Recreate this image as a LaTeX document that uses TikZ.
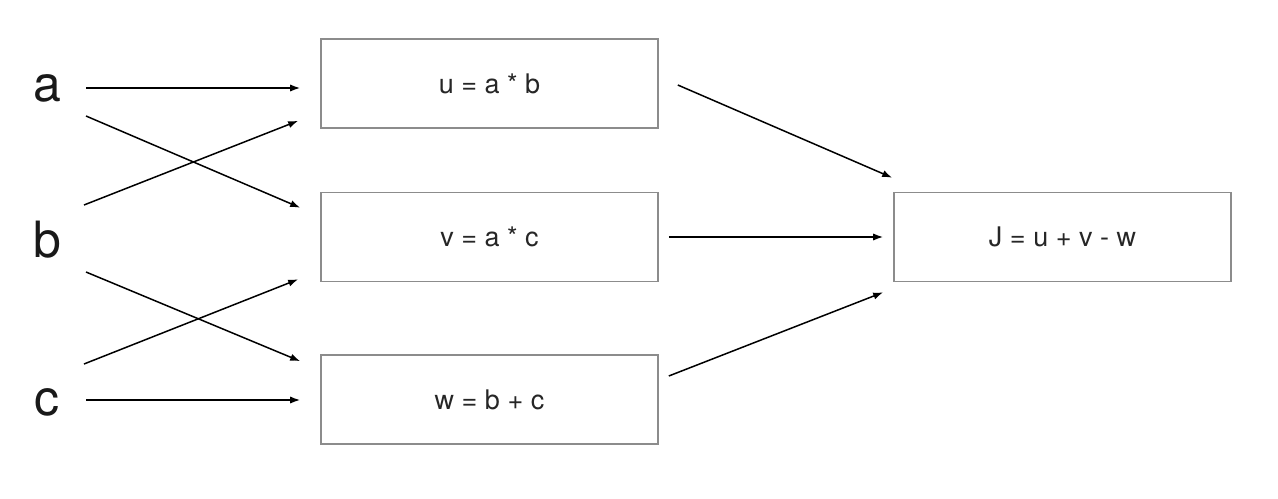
\documentclass[tikz,border=0pt]{standalone}
\usepackage{fontspec}
\setmainfont{TeX Gyre Heros}
\usetikzlibrary{arrows.meta}

\begin{document}
\begin{tikzpicture}[x=0.5pt,y=-0.5pt,>={Latex[length=5pt,width=3.6pt]}]
\tikzset{
  opbox/.style={draw=black!45,line width=0.8pt,minimum width=168.5pt,minimum height=44.5pt,
    inner sep=0pt,font=\fontsize{13.5}{16}\selectfont,text=black!85},
  invar/.style={inner sep=0pt,font=\fontsize{25}{30}\selectfont,text=black!90},
  arr/.style={->,line width=0.75pt}
}
\useasboundingbox (0,0) rectangle (1278,498);
% inputs
\node[invar] (a) at (47,88) {a};
\node[invar] (b) at (47,240) {b};
\node[invar] (c) at (47,402) {c};
% operations
\node[opbox] (u) at (489.5,83.5) {u = a * b};
\node[opbox] (v) at (489.5,237) {v = a * c};
\node[opbox] (w) at (489.5,399.5) {w = b + c};
\node[opbox] (J) at (1062.5,237) {J = u + v - w};
% inputs to operations
\draw[arr] ([shift={(39,0)}]a.center) -- ([shift={(-20,4.5)}]u.west);
\draw[arr] ([shift={(39,28)}]a.center) -- ([shift={(-20,16)}]v.north west);
\draw[arr] ([shift={(37,-35)}]b.center) -- ([shift={(-22,-8)}]u.south west);
\draw[arr] ([shift={(39,32)}]b.center) -- ([shift={(-20,7)}]w.north west);
\draw[arr] ([shift={(37,-38)}]c.center) -- ([shift={(-22,-3)}]v.south west);
\draw[arr] ([shift={(39,-2)}]c.center) -- ([shift={(-20,0.5)}]w.west);
% operations to J
\draw[arr] ([shift={(19,1.5)}]u.east) -- ([shift={(-1,-14)}]J.north west);
\draw[arr] ([shift={(10,0)}]v.east) -- ([shift={(-10,0)}]J.west);
\draw[arr] ([shift={(10,-23.5)}]w.east) -- ([shift={(-10,10)}]J.south west);
\end{tikzpicture}
\end{document}
